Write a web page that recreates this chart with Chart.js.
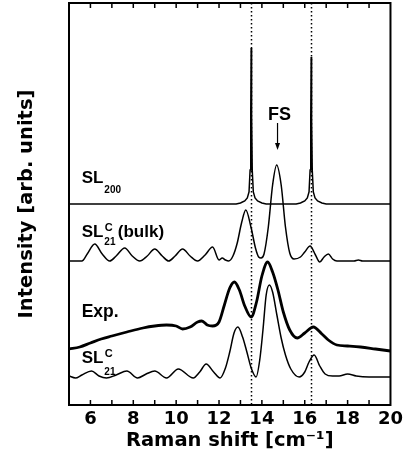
<!DOCTYPE html>
<html>
<head>
<meta charset="utf-8">
<script src="https://cdn.jsdelivr.net/npm/chart.js@4/dist/chart.umd.min.js"></script>
<style>
  html, body { margin: 0; padding: 0; background: #fff; }
  canvas { display: block; }
</style>
</head>
<body>
<canvas id="ramanChart" width="407" height="466"></canvas>
<script>
// axis
var xMin = 5, xMax = 20
var xTickLabels = [6, 8, 10, 12, 14, 16, 18, 20]
var yMin = 0, yMax = 402
// dotted reference lines [cm-1]
var refLines = [13.5, 16.3]

// SL200 (curves are stacked, offsets are part of the values)
var sl200_x = [5, 12.8, 13.0, 13.2, 13.32, 13.4, 13.45, 13.48, 13.5, 13.52, 13.55, 13.6, 13.68, 13.8, 14.0, 14.2,
               15.6, 15.8, 16.0, 16.12, 16.2, 16.25, 16.28, 16.3, 16.32, 16.35, 16.4, 16.48, 16.6, 16.8, 17.0, 20]
var sl200_y = [201, 201, 202, 204, 207, 213, 235, 290, 357, 290, 235, 213, 207, 204, 202, 201,
               201, 202, 204, 207, 213, 235, 285, 348, 285, 235, 213, 207, 204, 202, 201, 201]

// SL21^C (bulk)
var bulk_x = [5, 5.6, 5.85, 6.2, 6.55, 6.9, 7.2, 7.6, 7.95, 8.3, 8.65, 9.0, 9.35, 9.65, 9.95, 10.3, 10.65, 11.0, 11.35, 11.7,
              12.0, 12.15, 12.3, 12.45, 12.65, 12.85, 13.05, 13.25, 13.5, 13.7, 13.85, 13.96, 14.1, 14.3, 14.5, 14.69,
              14.9, 15.1, 15.3, 15.5, 15.8, 16.0, 16.25, 16.5, 16.7, 16.9, 17.1, 17.3, 17.5, 18.3, 18.5, 18.7, 20]
var bulk_y = [144, 144, 151, 161, 151, 144, 149, 157, 149, 144, 149, 156, 149, 144, 149, 156, 149, 144, 150, 158,
              145, 147, 145, 144, 149, 162, 182, 195, 177, 157, 148, 147, 151, 178, 220, 240,
              220, 178, 152, 146, 148, 153, 159, 150, 143, 148, 151, 146, 144, 144, 145, 144, 144]

// Exp.
var exp_x = [5, 5.5, 6.0, 6.5, 7.0, 7.7, 8.45, 9.0, 9.55, 10.0, 10.3, 10.65, 11.0, 11.2, 11.45, 11.7,
             12.0, 12.25, 12.5, 12.72, 12.95, 13.2, 13.5, 13.75, 14.0, 14.27, 14.5, 14.75, 15.0, 15.3, 15.65,
             16.0, 16.4, 16.8, 17.1, 17.5, 18.0, 18.6, 19.3, 20]
var exp_y = [56, 58, 62, 66, 69, 73, 77, 79, 80, 79, 76, 78, 83, 84, 80, 79,
             83, 100, 117, 123, 115, 99, 88, 103, 129, 143, 133, 115, 93, 75, 67,
             72, 78, 71, 65, 60, 59, 58, 56, 54]

// SL21^C
var sl21_x = [5, 5.3, 5.6, 6.05, 6.4, 6.75, 7.2, 7.7, 8.2, 8.6, 9.0, 9.55, 10.1, 10.8, 11.1, 11.4, 11.75, 12.05,
              12.3, 12.5, 12.7, 12.88, 13.1, 13.3, 13.5, 13.73, 13.9, 14.05, 14.2, 14.35, 14.5, 14.7, 14.9, 15.1,
              15.35, 15.74, 16.0, 16.2, 16.44, 16.7, 16.95, 17.3, 17.6, 18.0, 18.4, 19.0, 20]
var sl21_y = [29, 27, 30, 34, 29, 27, 30, 34, 27, 31, 34, 27, 36, 27, 33, 41, 33, 27,
              37, 53, 72, 78, 68, 53, 37, 28, 45, 75, 110, 120, 113, 90, 67, 50,
              36, 28, 33, 43, 50, 39, 31, 29, 29, 31, 29, 28, 28]

function toPoints(xs, ys) {
  var pts = []
  for (var i = 0; i < xs.length; i++) pts.push({x: xs[i], y: ys[i]})
  return pts
}

var labelFont = '"Liberation Sans", Arial, sans-serif'
var axisFont = '"DejaVu Sans", sans-serif'

function drawSL(ctx, x, y, sup, sub, subDy, rest) {
  ctx.font = 'bold 17px ' + labelFont
  ctx.fillText('SL', x, y)
  var w = ctx.measureText('SL').width
  var end = x + w
  if (sup) {
    ctx.font = 'bold 11px ' + labelFont
    ctx.fillText(sup, x + w + 1.5, y - 6)
    end = x + w + 1.5 + ctx.measureText(sup).width
  }
  if (sub) {
    ctx.font = 'bold 10px ' + labelFont
    ctx.fillText(sub, x + w + 1, y + subDy)
  }
  if (rest) {
    ctx.font = 'bold 17px ' + labelFont
    ctx.fillText(rest, end + 5, y)
  }
}

var decorations = {
  id: 'decorations',
  afterDatasetsDraw: function(chart) {
    var ctx = chart.ctx
    var a = chart.chartArea
    var xs = chart.scales.x, ys = chart.scales.y
    ctx.save()
    ctx.strokeStyle = '#000'
    ctx.fillStyle = '#000'

    // dotted lines
    ctx.lineWidth = 1.5
    ctx.setLineDash([1.5, 2.5])
    refLines.forEach(function(v) {
      var p = Math.round(xs.getPixelForValue(v)) + 0.5
      ctx.beginPath()
      ctx.moveTo(p, a.top)
      ctx.lineTo(p, a.bottom)
      ctx.stroke()
    })
    ctx.setLineDash([])

    // frame
    ctx.lineWidth = 2
    ctx.strokeRect(a.left, a.top, a.right - a.left, a.bottom - a.top)

    // inward ticks, top and bottom
    ctx.lineWidth = 1.5
    for (var v = xMin + 1; v < xMax; v++) {
      var p = xs.getPixelForValue(v)
      ctx.beginPath()
      ctx.moveTo(p, a.bottom)
      ctx.lineTo(p, a.bottom - 5)
      ctx.moveTo(p, a.top)
      ctx.lineTo(p, a.top + 5)
      ctx.stroke()
    }

    // curve labels
    ctx.textBaseline = 'alphabetic'
    ctx.textAlign = 'left'
    var lx = xs.getPixelForValue(5.59)
    drawSL(ctx, lx, ys.getPixelForValue(222), null, '200', 10, null)
    drawSL(ctx, lx, ys.getPixelForValue(168), 'C', '21', 8, '(bulk)')
    ctx.font = 'bold 17.5px ' + labelFont
    ctx.fillText('Exp.', lx, ys.getPixelForValue(88))
    drawSL(ctx, lx, ys.getPixelForValue(42), 'C', '21', 12, null)

    // FS label and arrow
    var fx = xs.getPixelForValue(14.73)
    ctx.font = 'bold 18px ' + labelFont
    ctx.textAlign = 'center'
    ctx.fillText('FS', fx + 2, ys.getPixelForValue(285))
    ctx.lineWidth = 1.2
    ctx.beginPath()
    ctx.moveTo(fx, ys.getPixelForValue(282))
    ctx.lineTo(fx, ys.getPixelForValue(262))
    ctx.stroke()
    var tip = ys.getPixelForValue(255)
    ctx.beginPath()
    ctx.moveTo(fx - 2.5, tip - 7)
    ctx.lineTo(fx + 2.5, tip - 7)
    ctx.lineTo(fx, tip)
    ctx.closePath()
    ctx.fill()
    ctx.restore()
  }
}

var ctx = document.getElementById('ramanChart').getContext('2d')
var ramanChart = new Chart(ctx, {
  type: 'line',
  data: {
    datasets: [
      {
        label: 'SL200',
        data: toPoints(sl200_x, sl200_y),
        borderColor: '#000',
        borderWidth: 1.5,
        tension: 0
      },
      {
        label: 'SL21C (bulk)',
        data: toPoints(bulk_x, bulk_y),
        borderColor: '#000',
        borderWidth: 1.5,
        cubicInterpolationMode: 'monotone'
      },
      {
        label: 'Exp.',
        data: toPoints(exp_x, exp_y),
        borderColor: '#000',
        borderWidth: 2.8,
        cubicInterpolationMode: 'monotone'
      },
      {
        label: 'SL21C',
        data: toPoints(sl21_x, sl21_y),
        borderColor: '#000',
        borderWidth: 1.5,
        cubicInterpolationMode: 'monotone'
      }
    ]
  },
  options: {
    responsive: false,
    animation: false,
    layout: { padding: { top: 3, right: 15, left: 0, bottom: 0 } },
    elements: { point: { radius: 0 } },
    plugins: { legend: { display: false }, tooltip: { enabled: false } },
    scales: {
      x: {
        type: 'linear',
        min: xMin,
        max: xMax,
        grid: { display: false, drawTicks: false },
        border: { display: false },
        ticks: {
          stepSize: 1,
          autoSkip: false,
          maxRotation: 0,
          padding: 4,
          color: '#000',
          font: { family: axisFont, size: 18, weight: 'bold' },
          callback: function(v) { return xTickLabels.includes(v) ? String(v) : '' }
        },
        title: {
          display: true,
          text: 'Raman shift [cm\u207B\u00B9]',
          color: '#000',
          font: { family: axisFont, size: 19.5, weight: 'bold' },
          padding: { top: 0, bottom: 13 }
        },
        afterFit: function(scale) { scale.height = 61 }
      },
      y: {
        min: yMin,
        max: yMax,
        grid: { display: false, drawTicks: false },
        border: { display: false },
        ticks: { display: false },
        title: {
          display: true,
          text: 'Intensity [arb. units]',
          color: '#000',
          font: { family: axisFont, size: 19.5, weight: 'bold' },
          padding: { top: 15, bottom: 0 }
        },
        afterFit: function(scale) { scale.width = 69 }
      }
    }
  },
  plugins: [decorations]
})
</script>
</body>
</html>
